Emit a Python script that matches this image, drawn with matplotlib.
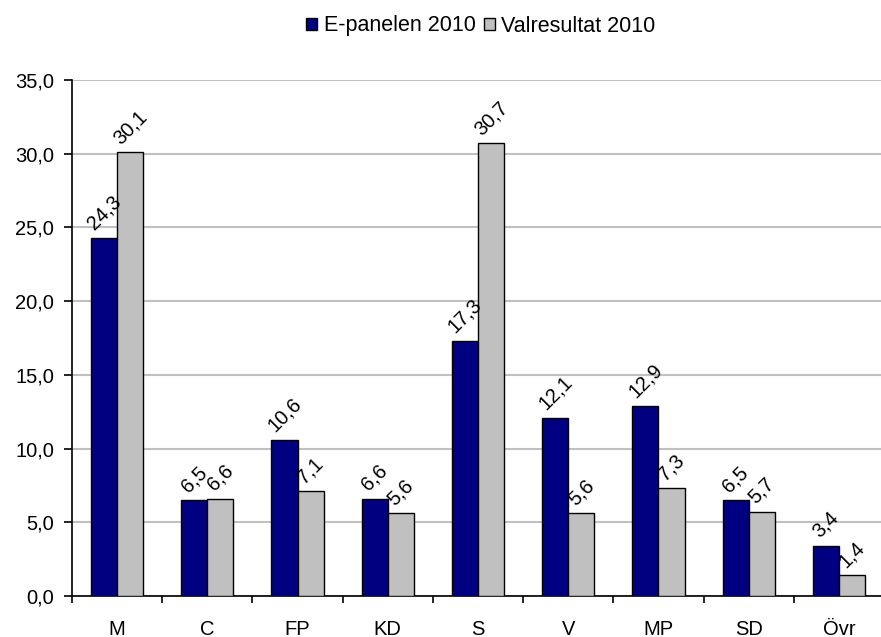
import numpy as np
import matplotlib.pyplot as plt

plt.rcParams['font.family'] = ['Liberation Sans', 'DejaVu Sans']

parties = ['M', 'C', 'FP', 'KD', 'S', 'V', 'MP', 'SD', 'Övr']
epanel = [24.3, 6.5, 10.6, 6.6, 17.3, 12.1, 12.9, 6.5, 3.4]
valres = [30.1, 6.6, 7.1, 5.6, 30.7, 5.6, 7.3, 5.7, 1.4]
yticks = [0, 5, 10, 15, 20, 25, 30, 35]


def fmt(v):
    return ('%.1f' % v).replace('.', ',')


W, H = 881, 637
fig = plt.figure(figsize=(W / 100, H / 100), dpi=100)
# plot area, in pixels of the picture
left, right, top, bottom = 72, 884, 80, 596
ax = fig.add_axes([left / W, 1 - bottom / H, (right - left) / W, (bottom - top) / H])

x = np.arange(len(parties))
w = 0.289
b1 = ax.bar(x - w / 2, epanel, w, color='#000080', edgecolor='black', linewidth=1,
            label='E-panelen 2010', zorder=3)
b2 = ax.bar(x + w / 2, valres, w, color='#C0C0C0', edgecolor='black', linewidth=1,
            label='Valresultat 2010', zorder=3)

for bars, vals in [(b1, epanel), (b2, valres)]:
    for r, v in zip(bars, vals):
        ax.text(r.get_x() + r.get_width() / 2, v + 0.3, fmt(v), rotation=45,
                ha='center', va='bottom', fontsize=14.5, zorder=4)

ax.set_xlim(-0.5, len(parties) - 0.5)
ax.set_ylim(0, 35)
ax.set_yticks(yticks)
ax.set_yticklabels([fmt(t) for t in yticks], fontsize=14.5)
ax.set_xticks(np.arange(len(parties) + 1) - 0.5)
ax.set_xticklabels([])
ax.set_xticks(x, minor=True)
ax.set_xticklabels(parties, minor=True, fontsize=14.5)
ax.tick_params(axis='x', which='minor', length=0, pad=17)
ax.tick_params(axis='x', which='major', length=5, width=1.2, direction='out')
ax.tick_params(axis='y', length=6, width=1.2, direction='out', pad=7)

ax.grid(True, axis='y', color='#C0C0C0', linewidth=1.5, zorder=0)
for s in ['top', 'right']:
    ax.spines[s].set_visible(False)
ax.spines['left'].set_linewidth(1.2)
ax.spines['bottom'].set_linewidth(1.2)

fig.legend(loc='center', bbox_to_anchor=(481 / W, 1 - 26 / H), ncol=2, frameon=False,
           fontsize=15.5, handlelength=0.5, handleheight=0.5, handletextpad=0.3,
           columnspacing=0.4)

fig.savefig('out.png', dpi=100)
